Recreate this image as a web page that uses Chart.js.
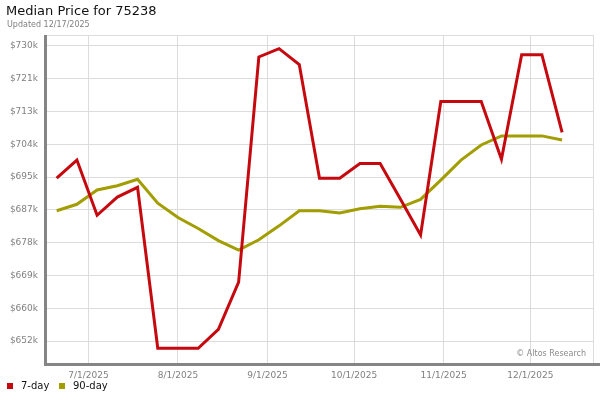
<!DOCTYPE html>
<html>
<head>
<meta charset="utf-8">
<script src="https://cdn.jsdelivr.net/npm/chart.js@4"></script>
<style>
  html, body { margin: 0; padding: 0; background: #ffffff; }
  #wrap { width: 600px; height: 400px; }
</style>
</head>
<body>
<div id="wrap"><canvas id="chart" width="600" height="400"></canvas></div>
<script>
// weekly sample dates
const dates = [
    '2025-06-20', '2025-06-27', '2025-07-04', '2025-07-11', '2025-07-18', '2025-07-25',
    '2025-08-01', '2025-08-08', '2025-08-15', '2025-08-22', '2025-08-29', '2025-09-05',
    '2025-09-12', '2025-09-19', '2025-09-26', '2025-10-03', '2025-10-10', '2025-10-17',
    '2025-10-24', '2025-10-31', '2025-11-07', '2025-11-14', '2025-11-21', '2025-11-28',
    '2025-12-05', '2025-12-12'
];

// median price in $k
const sevenDay = [
    694.9, 699.7, 685.1, 689.9, 692.5, 649.9,
    649.9, 649.9, 654.9, 667.4, 727.0, 729.2,
    725.0, 694.9, 694.9, 698.8, 698.8, 689.4,
    679.9, 715.2, 715.2, 715.2, 699.9, 727.6,
    727.6, 707.0
];
const ninetyDay = [
    686.3, 688.0, 691.8, 692.9, 694.6, 688.3,
    684.5, 681.6, 678.4, 675.9, 678.6, 682.3,
    686.3, 686.3, 685.7, 686.8, 687.5, 687.2,
    689.3, 694.4, 699.7, 703.7, 706.1, 706.1,
    706.1, 705.0
];

const xTickDates = ['2025-07-01', '2025-08-01', '2025-09-01', '2025-10-01', '2025-11-01', '2025-12-01'];
const xTickLabels = ['7/1/2025', '8/1/2025', '9/1/2025', '10/1/2025', '11/1/2025', '12/1/2025'];

const yTickValues = [651.8, 660.5, 669.2, 677.9, 686.6, 695.2, 703.9, 712.6, 721.3, 730.0];
const yTickLabels = ['$652k', '$660k', '$669k', '$678k', '$687k', '$695k', '$704k', '$713k', '$721k', '$730k'];

const seriesNames = ['7-day', '90-day'];
const seriesColors = ['#c5090f', '#a29d00'];

const FONT = "'DejaVu Sans', Verdana, sans-serif";

function toDay(s) {
    return Date.UTC(+s.slice(0, 4), +s.slice(5, 7) - 1, +s.slice(8, 10)) / 86400000;
}

const xMin = toDay('2025-06-16') + 0.65;
const xMax = toDay('2025-12-22') + 0.7;

const framePlugin = {
    id: 'frame',
    afterDraw(chart) {
        const ctx = chart.ctx;
        const a = chart.chartArea;
        ctx.save();

        // light top / right edges
        ctx.strokeStyle = '#dddddd';
        ctx.lineWidth = 1;
        ctx.beginPath();
        ctx.moveTo(a.left, Math.round(a.top) + 0.5);
        ctx.lineTo(a.right, Math.round(a.top) + 0.5);
        ctx.moveTo(Math.round(a.right) + 0.5, a.top);
        ctx.lineTo(Math.round(a.right) + 0.5, a.bottom);
        ctx.stroke();

        // heavy left / bottom edges
        ctx.fillStyle = '#858585';
        ctx.fillRect(a.left - 3, a.top, 3, a.bottom - a.top + 3);
        ctx.fillRect(a.left - 3, a.bottom, 600 - a.left + 3, 3);

        // title
        ctx.textBaseline = 'middle';
        ctx.textAlign = 'left';
        ctx.fillStyle = '#111111';
        ctx.font = '13px ' + FONT;
        ctx.fillText('Median Price for 75238', 6, 12);
        ctx.fillStyle = '#808080';
        ctx.font = '8px ' + FONT;
        ctx.fillText('Updated 12/17/2025', 7, 24.5);

        // watermark
        ctx.textAlign = 'right';
        ctx.fillStyle = '#8a8a8a';
        ctx.font = '8px ' + FONT;
        ctx.fillText('\u00a9 Altos Research', 586, 354);

        // legend
        ctx.textAlign = 'left';
        ctx.font = '10px ' + FONT;
        const legendX = [7, 59];
        seriesNames.forEach((name, i) => {
            ctx.fillStyle = seriesColors[i];
            ctx.fillRect(legendX[i], 383, 6, 6);
            ctx.fillStyle = '#111111';
            ctx.fillText(name, legendX[i] + 14, 386);
        });

        ctx.restore();
    }
};

const ctx = document.getElementById('chart').getContext('2d');
new Chart(ctx, {
    type: 'line',
    data: {
        datasets: [
            {
                label: seriesNames[0],
                data: dates.map((d, i) => ({ x: toDay(d), y: sevenDay[i] })),
                borderColor: seriesColors[0],
                backgroundColor: seriesColors[0],
                borderWidth: 3,
                pointRadius: 0,
                tension: 0
            },
            {
                label: seriesNames[1],
                data: dates.map((d, i) => ({ x: toDay(d), y: ninetyDay[i] })),
                borderColor: seriesColors[1],
                backgroundColor: seriesColors[1],
                borderWidth: 3,
                pointRadius: 0,
                tension: 0
            }
        ]
    },
    options: {
        responsive: false,
        devicePixelRatio: 1,
        animation: false,
        layout: { padding: { top: 35, right: 7, bottom: 0, left: 0 } },
        plugins: {
            legend: { display: false },
            title: { display: false },
            tooltip: { enabled: false }
        },
        scales: {
            x: {
                type: 'linear',
                min: xMin,
                max: xMax,
                afterBuildTicks: (scale) => {
                    scale.ticks = xTickDates.map(d => ({ value: toDay(d) }));
                },
                afterFit: (scale) => { scale.height = 37; },
                ticks: {
                    autoSkip: false,
                    maxRotation: 0,
                    padding: 7,
                    color: '#808080',
                    font: { family: FONT, size: 9 },
                    callback: (value, index) => xTickLabels[index]
                },
                grid: { color: '#dcdcdc', lineWidth: 1, drawTicks: false },
                border: { display: false }
            },
            y: {
                min: 646.0,
                max: 732.8,
                afterBuildTicks: (scale) => {
                    scale.ticks = yTickValues.map(v => ({ value: v }));
                },
                afterFit: (scale) => { scale.width = 47; },
                ticks: {
                    autoSkip: false,
                    padding: 9,
                    color: '#808080',
                    font: { family: FONT, size: 9 },
                    callback: (value, index) => yTickLabels[index]
                },
                grid: { color: '#dcdcdc', lineWidth: 1, drawTicks: false },
                border: { display: false }
            }
        }
    },
    plugins: [framePlugin]
});
</script>
</body>
</html>
